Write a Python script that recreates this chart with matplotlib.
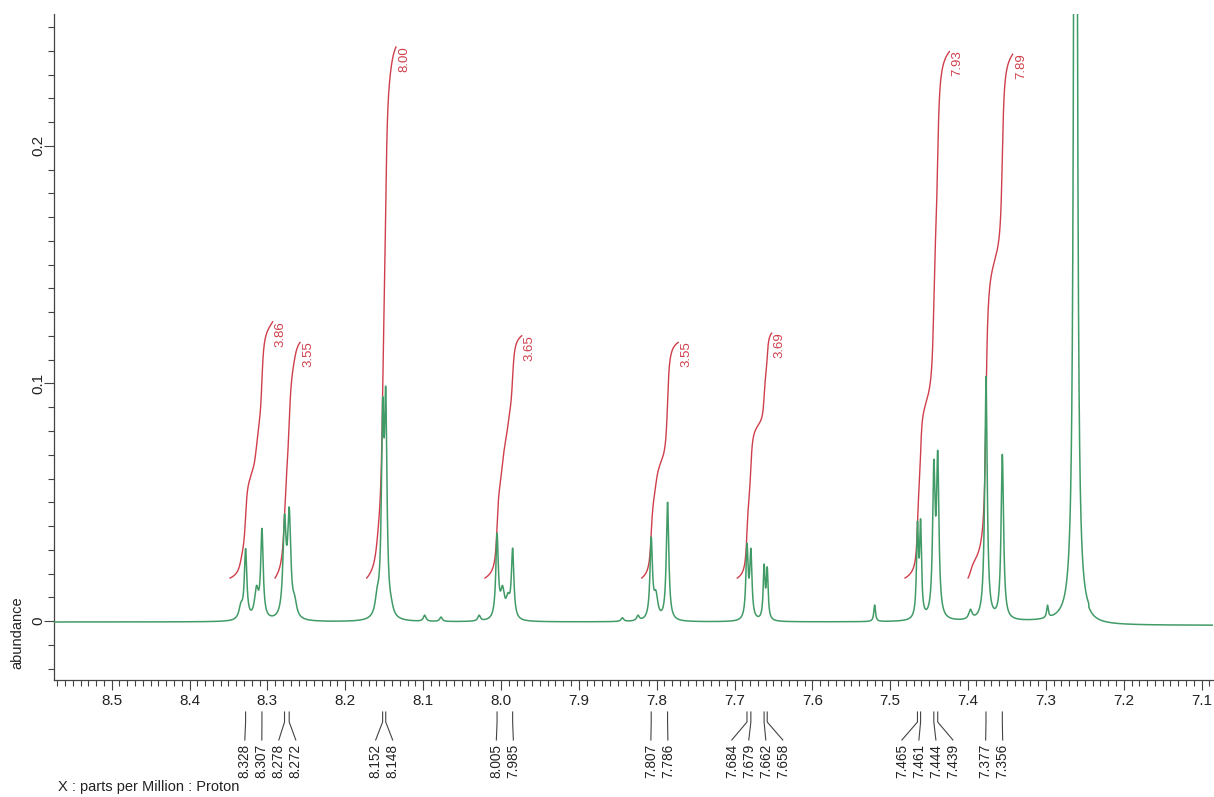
import numpy as np
import matplotlib
matplotlib.use("Agg")
import matplotlib.pyplot as plt
from matplotlib.ticker import MultipleLocator, FixedLocator, FuncFormatter

plt.rcParams['font.family'] = ['Liberation Sans', 'DejaVu Sans']

# ---------------- data ----------------
# resonance lines: position (ppm), apparent height (abundance), half width (ppm)
line_ppm = [8.334, 8.328, 8.314, 8.307, 8.278, 8.272, 8.265,
            8.159, 8.152, 8.148, 8.141, 8.098, 8.077, 8.028,
            8.005, 7.998, 7.991, 7.985, 7.844, 7.824, 7.807, 7.801, 7.786,
            7.684, 7.679, 7.662, 7.658, 7.520,
            7.465, 7.461, 7.444, 7.439, 7.397, 7.377, 7.356, 7.351,
            7.298, 7.262]
line_height = [0.008, 0.0305, 0.015, 0.039, 0.045, 0.048, 0.011,
               0.0145, 0.094, 0.0985, 0.0102, 0.0025, 0.0017, 0.0025,
               0.037, 0.015, 0.012, 0.0307, 0.0014, 0.0025, 0.0354, 0.013, 0.050,
               0.0327, 0.0306, 0.024, 0.0228, 0.0068,
               0.042, 0.043, 0.068, 0.0718, 0.005, 0.103, 0.070, 0.0087,
               0.0067, 1.0]
line_hwhm = [0.0030, 0.0019, 0.0030, 0.0019, 0.0024, 0.0024, 0.0030,
             0.0030, 0.0019, 0.0019, 0.0030, 0.0020, 0.0020, 0.0020,
             0.0019, 0.0030, 0.0030, 0.0019, 0.0020, 0.0020, 0.0019, 0.0030, 0.0019,
             0.0017, 0.0017, 0.0014, 0.0014, 0.0013,
             0.00145, 0.00145, 0.00185, 0.00185, 0.0025, 0.0019, 0.0019, 0.0030,
             0.0013, 0.0015]

# baseline level left / right of the solvent line
baseline_left = -0.0004
baseline_right = -0.0018
baseline_break = 7.245

# peak pick labels
peak_labels = ['8.328', '8.307', '8.278', '8.272', '8.152', '8.148', '8.005', '7.985',
               '7.807', '7.786', '7.684', '7.679', '7.662', '7.658',
               '7.465', '7.461', '7.444', '7.439', '7.377', '7.356']

# integrals: start ppm, end ppm, value
integral_start = [8.348, 8.2902, 8.1725, 8.0205, 7.8192, 7.6964, 7.481, 7.400]
integral_end = [8.2932, 8.2581, 8.1348, 7.9733, 7.7722, 7.6522, 7.424, 7.3426]
integral_value = ['3.86', '3.55', '8.00', '3.65', '3.55', '3.69', '7.93', '7.89']
integral_base = 0.0181
integral_scale = 0.02794   # abundance units per integral unit

x_left, x_right = 8.5741, 7.0854
y_bottom, y_top = -0.0248, 0.2555

# ---------------- spectrum model ----------------
pos = np.array(line_ppm)
hgt = np.array(line_height)
wid = np.array(line_hwhm)

def shapes(x):
    x = np.atleast_1d(x)
    return 1.0 / (1.0 + ((x[:, None] - pos[None, :]) / wid[None, :]) ** 2)

def baseline(x):
    return np.where(x > baseline_break, baseline_left, baseline_right)

A = shapes(pos)
amp = np.linalg.solve(A, hgt - baseline(pos))
amp = np.clip(amp, 0, None)

ppm = np.linspace(x_left, x_right, 20000)
spec = baseline(ppm) + shapes(ppm) @ amp

# ---------------- figure ----------------
W, H = 1214, 797
fig = plt.figure(figsize=(W / 100, H / 100), dpi=100)
ax_l, ax_r, ax_t, ax_b = 54, 1213, 14, 680
ax = fig.add_axes([ax_l / W, (H - ax_b) / H, (ax_r - ax_l) / W, (ax_b - ax_t) / H])

green = '#419b67'
red = '#cf3f4b'
axcol = '#444444'
txtcol = '#222222'

# integrals
for s, e, v in zip(integral_start, integral_end, integral_value):
    m = (ppm <= s) & (ppm >= e)
    seg = spec[m] - baseline(ppm[m])
    cum = np.cumsum(seg)
    cum = cum / cum[-1] * float(v) * integral_scale + integral_base
    ax.plot(ppm[m], cum, color=red, lw=1.0, zorder=2)
    ax.text(e - 0.0105, cum[-1] + 0.0004, v, rotation=90, ha='center', va='top',
            color=red, fontsize=9.5, zorder=4)

ax.plot(ppm, spec, color=green, lw=1.1, zorder=3)

ax.set_xlim(x_left, x_right)
ax.set_ylim(y_bottom, y_top)

for sp in ['top', 'right']:
    ax.spines[sp].set_visible(False)
for sp in ['left', 'bottom']:
    ax.spines[sp].set_color(axcol)
    ax.spines[sp].set_linewidth(0.9)

ax.xaxis.set_major_locator(MultipleLocator(0.1))
ax.xaxis.set_minor_locator(MultipleLocator(0.01))
ax.xaxis.set_major_formatter(FuncFormatter(lambda v, p: f'{v:.1f}'))
ax.yaxis.set_major_locator(FixedLocator([0.0, 0.1, 0.2]))
ax.yaxis.set_minor_locator(MultipleLocator(0.01))
ax.yaxis.set_major_formatter(FuncFormatter(lambda v, p: '0' if abs(v) < 1e-9 else f'{v:.1f}'))

ax.tick_params(which='major', length=7, width=0.8, color=axcol, labelsize=11,
               labelcolor=txtcol, pad=3)
ax.tick_params(which='minor', length=4, width=0.8, color=axcol)
ax.tick_params(axis='y', labelrotation=90, pad=-1)
plt.setp(ax.get_yticklabels(), va='center')

# peak labels with spread positions
px_per_ppm = (ax_r - ax_l) / (x_left - x_right)
d = 17 / px_per_ppm
vals = [float(t) for t in peak_labels]
groups = [[v] for v in vals]

def positions(g):
    c = np.mean(g)
    n = len(g)
    return [c + d * ((n - 1) / 2 - k) for k in range(n)]

merged = True
while merged:
    merged = False
    for i in range(len(groups) - 1):
        if positions(groups[i])[-1] - positions(groups[i + 1])[0] < d - 1e-9:
            groups[i] = groups[i] + groups[i + 1]
            del groups[i + 1]
            merged = True
            break
label_pos = []
for g in groups:
    label_pos += positions(g)

trans = ax.get_xaxis_transform()
hgt_px = ax_b - ax_t
y1 = -(712 - ax_b) / hgt_px
y2 = -(722 - ax_b) / hgt_px
y3 = -(740 - ax_b) / hgt_px
yt = -(744 - ax_b) / hgt_px
for v, xl, s in zip(vals, label_pos, peak_labels):
    ax.plot([v, v, xl], [y1, y2, y3], transform=trans, clip_on=False,
            color=axcol, lw=0.8)
    ax.text(xl, yt, s, transform=trans, rotation=90, ha='center', va='top',
            fontsize=9.8, color=txtcol)

fig.text(17 / W, 1 - 633 / H, 'abundance', rotation=90, ha='center', va='center',
         fontsize=10.5, color=txtcol)
fig.text(58 / W, 1 - 787 / H, 'X : parts per Million : Proton', ha='left', va='center',
         fontsize=10.5, color=txtcol)

fig.savefig('out.png', dpi=100, facecolor='white')
